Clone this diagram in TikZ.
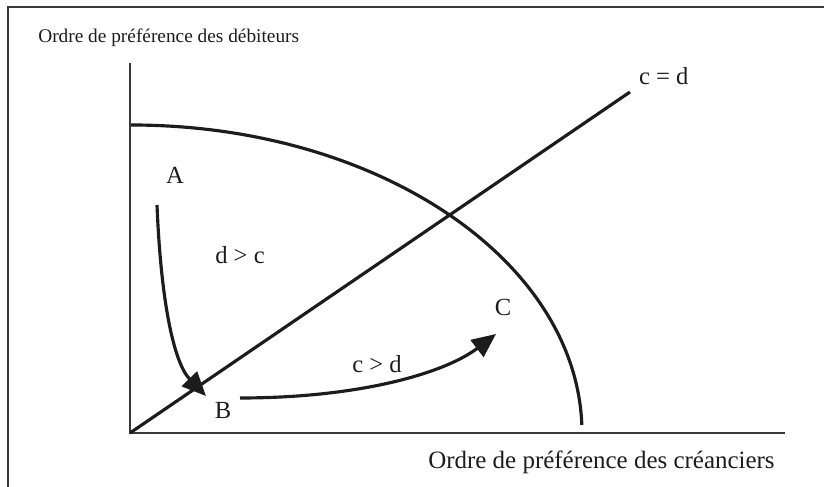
\documentclass[tikz,border=0pt]{standalone}
\usepackage{fontspec}
\setmainfont{Liberation Serif}
\usepackage{tikz}
\usetikzlibrary{arrows.meta,positioning}
\definecolor{ink}{HTML}{1C1C1C}
\definecolor{rulec}{HTML}{3A3A3A}
\tikzset{
  frame/.style={draw=rulec, line width=1.2pt},
  axis/.style={draw=rulec, line width=0.8pt},
  curve/.style={draw=ink, line width=1.8pt},
  flow/.style={curve, -{Triangle[length=4.8mm,width=4.2mm]}},
  lbl/.style={font=\fontsize{14}{16}\selectfont, text=ink, inner sep=1pt},
  ylbl/.style={font=\fontsize{11}{13}\selectfont, text=ink, inner sep=0pt},
  xlbl/.style={font=\fontsize{14.2}{16}\selectfont, text=ink, inner sep=0pt},
}

\begin{document}
\begin{tikzpicture}
  \useasboundingbox (-2.6,-1.08) rectangle (13.88,8.66);
  % frame
  \draw[frame] (-2.44,-1.08) -- (-2.44,8.52) -- (13.88,8.52);

  % axes
  \coordinate (O) at (0,0);
  \coordinate (ytop) at (0,7.4);
  \coordinate (xend) at (13.1,0);
  \draw[axis] (ytop) -- (O) -- (xend);
  \node[ylbl, anchor=west] (ylab) at (-1.84,7.9) {Ordre de préférence des débiteurs};
  \node[xlbl, anchor=east] (xlab) at (12.9,-0.58) {Ordre de préférence des créanciers};

  % frontier
  \draw[curve] (0.02,6.16) arc[start angle=90, end angle=1.5, x radius=9.02cm, y radius=6.16cm];

  % diagonal c = d
  \coordinate (dtop) at (10.0,6.82);
  \draw[curve] (O) -- (dtop);
  \node[lbl, anchor=west] (eq) at (10.14,7.14) {c = d};

  % labels
  \node[lbl] (A) at (0.9,5.16) {A};
  \node[lbl] (B) at (1.86,0.46) {B};
  \node[lbl] (C) at (7.46,2.52) {C};
  \node[lbl] (dc) at (2.2,3.56) {d > c};
  \node[lbl] (cd) at (4.94,1.38) {c > d};

  % paths A -> B -> C
  \coordinate (a0) at (0.54,4.56);
  \coordinate (a1) at (1.52,0.74);
  \coordinate (b0) at (2.2,0.7);
  \coordinate (b1) at (7.32,1.98);
  \draw[flow] (a0) .. controls (0.62,2.6) and (0.88,1.4) .. (a1);
  \draw[flow] (b0) .. controls (4.6,0.7) and (6.3,1.2) .. (b1);
\end{tikzpicture}
\end{document}
